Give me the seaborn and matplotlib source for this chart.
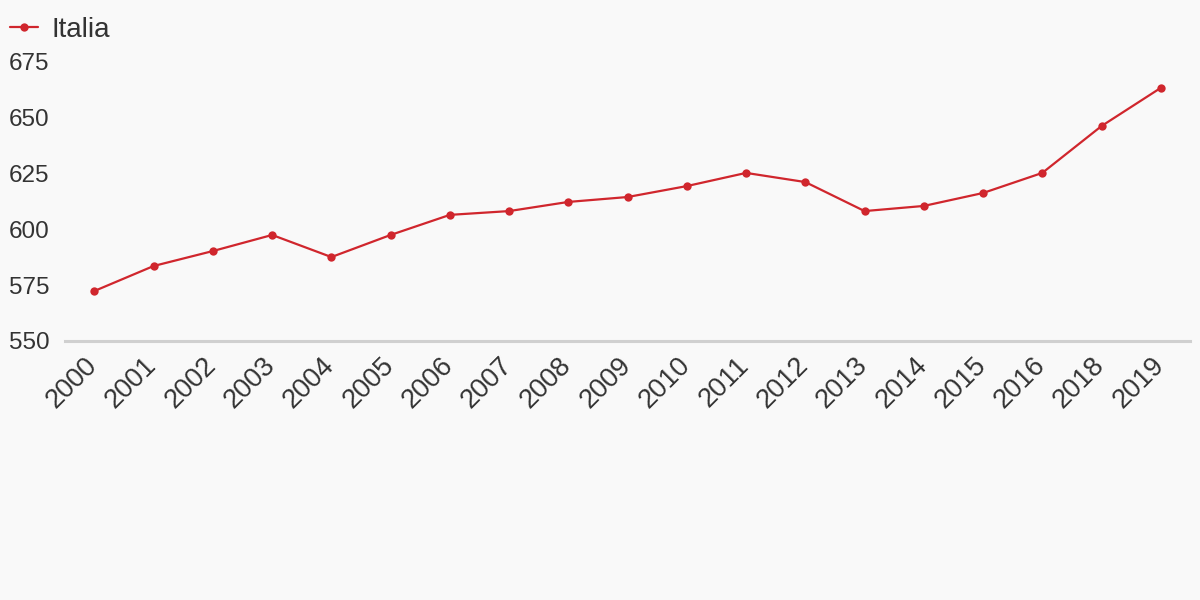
import seaborn as sns
import pandas as pd
import matplotlib.pyplot as plt
import matplotlib.transforms as mtransforms

# Values
years = ['2000', '2001', '2002', '2003', '2004', '2005', '2006', '2007', '2008', '2009',
         '2010', '2011', '2012', '2013', '2014', '2015', '2016', '2018', '2019']
italia = [572.4, 583.6, 590.3, 597.5, 587.6, 597.5, 606.5, 608.2, 612.3, 614.5,
          619.4, 625.3, 621.2, 608.2, 610.5, 616.3, 625.3, 646.3, 663.4]
y_ticks = [550, 575, 600, 625, 650, 675]

df = pd.DataFrame({'year': years, 'value': italia, 'series': 'Italia'})

sns.set_style('white')
plt.rcParams['font.family'] = ['Liberation Sans', 'DejaVu Sans']

BG = '#f9f9f9'
RED = '#d0262d'
TXT = '#333333'

fig = plt.figure(figsize=(12, 6), dpi=100, facecolor=BG)
ax = fig.add_axes([0.054, 0.4317, 0.938, 0.465], facecolor=BG)

sns.lineplot(data=df, x='year', y='value', hue='series', palette=[RED],
             marker='o', markersize=6, markeredgewidth=0, linewidth=1.6,
             sort=False, ax=ax, legend=True)

ax.set_xlim(-0.5, len(years) - 0.5)
ax.set_ylim(550, 675)
ax.set_yticks(y_ticks)
ax.set_xlabel('')
ax.set_ylabel('')

for side in ['top', 'right', 'left']:
    ax.spines[side].set_visible(False)
ax.spines['bottom'].set_color('#d0d0d0')
ax.spines['bottom'].set_linewidth(2.2)

ax.tick_params(axis='y', length=0, labelsize=17.5, labelcolor=TXT, pad=11)
ax.tick_params(axis='x', length=0, labelsize=19.5, labelcolor=TXT, pad=8)
# nudge rotated year labels so their right ends sit at the ticks
shift = mtransforms.ScaledTranslation(-10 / 100, 0, fig.dpi_scale_trans)
for lab in ax.get_xticklabels():
    lab.set_rotation(45)
    lab.set_ha('right')
    lab.set_rotation_mode('anchor')
    lab.set_transform(lab.get_transform() + shift)

handles, labels = ax.get_legend_handles_labels()
ax.get_legend().remove()
fig.legend(handles, labels, loc='upper left', bbox_to_anchor=(10 / 1200, 1 - 17 / 600),
           frameon=False, fontsize=20, handlelength=1.0, handletextpad=0.5,
           borderpad=0, borderaxespad=0, labelcolor=TXT)

fig.savefig('out.png', dpi=100, facecolor=BG)
